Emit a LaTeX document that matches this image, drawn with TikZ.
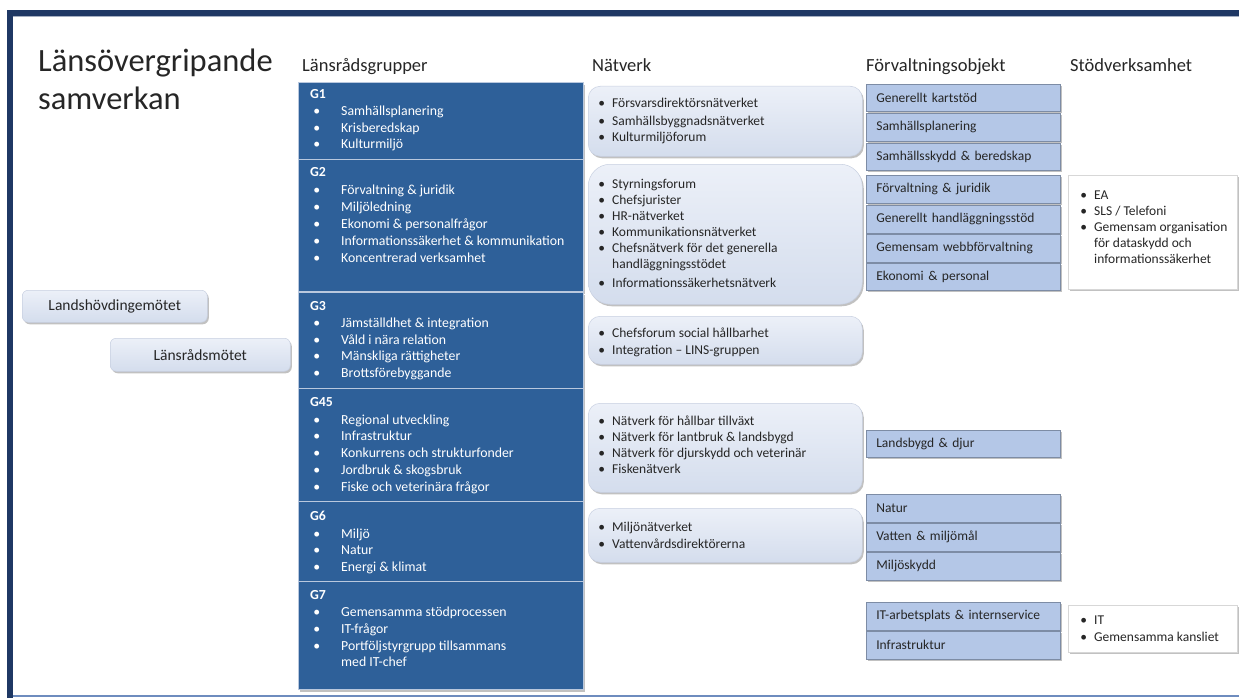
\documentclass[tikz,border=0pt]{standalone}
\usepackage{fontspec}
\setmainfont{Carlito}
\usetikzlibrary{shadows}
\definecolor{navy}{RGB}{31,56,100}
\definecolor{gblue}{RGB}{46,96,153}
\definecolor{gsep}{RGB}{185,200,222}
\definecolor{ntop}{RGB}{236,240,248}
\definecolor{nbot}{RGB}{212,221,237}
\definecolor{nline}{RGB}{200,208,225}
\definecolor{fofill}{RGB}{180,199,231}
\definecolor{foline}{RGB}{125,140,165}
\definecolor{txt}{RGB}{38,38,38}
\definecolor{botline}{RGB}{110,140,190}
\definecolor{stline}{RGB}{215,215,215}
\newcommand\gbul{\llap{\textbullet\hspace{21pt}}}
\newcommand\nbul{\llap{\textbullet\hspace{7pt}}}
\tikzset{
  shad/.style={drop shadow={shadow xshift=1.5pt,shadow yshift=-2pt,opacity=0.4,fill=black!60}},
  gbox/.style={draw=gsep, line width=1.2pt, fill=gblue, anchor=north west, inner sep=0, minimum width=285, shad},
  ghead/.style={anchor=base west, inner sep=0, text=white, font=\fontsize{13.8}{17}\selectfont\bfseries},
  gitem/.style={anchor=base west, inner sep=0, text=white, font=\fontsize{13.8}{17}\selectfont},
  nbox/.style={draw=nline, line width=0.5pt, top color=ntop, bottom color=nbot, rounded corners=12pt, anchor=north west, inner sep=0, minimum width=274, shad},
  nitem/.style={anchor=base west, inner sep=0, text=txt, font=\fontsize{13.5}{16}\selectfont},
  fobox/.style={draw=foline, line width=0.6pt, fill=fofill, anchor=north west, inner xsep=10pt, inner ysep=0pt, text width=174pt, align=left, minimum height=28, text=txt, font=\fontsize{13.5}{16}\selectfont, shad},
  stbox/.style={draw=stline, line width=0.5pt, fill=white, anchor=north west, inner sep=0, minimum width=168, shad},
  colhead/.style={anchor=base west, inner sep=0, text=txt, font=\fontsize{18.5}{22}\selectfont},
  lbox/.style={draw=nline, line width=0.5pt, top color=ntop, bottom color=nbot, rounded corners=6pt, anchor=north west, inner sep=0, text=txt, font=\fontsize{15.5}{18}\selectfont, shad},
}
\begin{document}
\begin{tikzpicture}[x=1pt,y=-1pt]
\useasboundingbox (0,0) rectangle (1239,698);
\fill[white] (0,0) rectangle (1239,698);
% frame
\fill[navy] (7,10) rectangle (1239,16);
\fill[navy!40!white] (13,16) rectangle (1239,17.2);
\fill[navy] (7,10) rectangle (13,698);
\fill[botline] (13,694.5) rectangle (1239,697);

% title
\node[anchor=base west, inner sep=0, text=txt, font=\fontsize{32.5}{38}\selectfont] (title1) at (38,72) {Länsövergripande};
\node[anchor=base west, inner sep=0, text=txt, font=\fontsize{32.5}{38}\selectfont] (title2) at (38,110) {samverkan};

% column headers
\node[colhead] (hgrp) at (302,72) {Länsrådsgrupper};
\node[colhead] (hnet) at (592,72) {Nätverk};
\node[colhead] (hfo) at (866,72) {Förvaltningsobjekt};
\node[colhead] (hst) at (1070,72) {Stödverksamhet};

% left boxes
\node[lbox, minimum width=185, minimum height=32] (landsh) at (22,290) {Landshövdingemötet};
\node[lbox, minimum width=180, minimum height=33] (lansr) at (110,338) {Länsrådsmötet};

% G blocks
\node[gbox, minimum height=77] (g1) at (298,82) {};
\node[gbox, minimum height=132] (g2) at (298,159) {};
\node[gbox, minimum height=96] (g3) at (298,292) {};
\node[gbox, minimum height=113] (g45) at (298,388) {};
\node[gbox, minimum height=80] (g6) at (298,501) {};
\node[gbox, minimum height=108] (g7) at (298,581) {};

\node[ghead] (g1h) at (310,99) {G1};
\foreach \n/\y/\lbl in {g1a/116/Samhällsplanering, g1b/132/Krisberedskap, g1c/148/Kulturmiljö}
  \node[gitem] (\n) at (341,\y) {\gbul\lbl};

\node[ghead] (g2h) at (310,176) {G2};
\foreach \n/\y/\lbl in {g2a/194/Förvaltning \& juridik, g2b/211/Miljöledning, g2c/228/Ekonomi \& personalfrågor, g2d/245/Informationssäkerhet \& kommunikation, g2e/262/Koncentrerad verksamhet}
  \node[gitem] (\n) at (341,\y) {\gbul\lbl};

\node[ghead] (g3h) at (310,310) {G3};
\foreach \n/\y/\lbl in {g3a/327/Jämställdhet \& integration, g3b/344/Våld i nära relation, g3c/360/Mänskliga rättigheter, g3d/377/Brottsförebyggande}
  \node[gitem] (\n) at (341,\y) {\gbul\lbl};

\node[ghead] (g45h) at (310,406) {G45};
\foreach \n/\y/\lbl in {g45a/424/Regional utveckling, g45b/440/Infrastruktur, g45c/457/Konkurrens och strukturfonder, g45d/474/Jordbruk \& skogsbruk, g45e/491/Fiske och veterinära frågor}
  \node[gitem] (\n) at (341,\y) {\gbul\lbl};

\node[ghead] (g6h) at (310,520) {G6};
\foreach \n/\y/\lbl in {g6a/538/Miljö, g6b/554/Natur, g6c/571/Energi \& klimat}
  \node[gitem] (\n) at (341,\y) {\gbul\lbl};

\node[ghead] (g7h) at (310,599) {G7};
\foreach \n/\y/\lbl in {g7a/616/Gemensamma stödprocessen, g7b/633/IT-frågor, g7c/650/Portföljstyrgrupp tillsammans}
  \node[gitem] (\n) at (341,\y) {\gbul\lbl};
\node[gitem] (g7d) at (341,666) {med IT-chef};

% network boxes
\node[nbox, minimum height=70] (n1) at (588,86) {};
\node[nbox, minimum height=140, rounded corners=22pt] (n2) at (588,164) {};
\node[nbox, minimum height=48] (n3) at (588,316) {};
\node[nbox, minimum height=89] (n4) at (588,403) {};
\node[nbox, minimum height=54] (n5) at (588,508) {};

\foreach \n/\y/\lbl in {n1a/108/Försvarsdirektörsnätverket, n1b/125/Samhällsbyggnadsnätverket, n1c/142/Kulturmiljöforum,
  n2a/188/Styrningsforum, n2b/204/Chefsjurister, n2c/220/HR-nätverket, n2d/236/Kommunikationsnätverket, n2e/252/Chefsnätverk för det generella, n2g/287/Informationssäkerhetsnätverk,
  n3a/337/Chefsforum social hållbarhet, n3b/354/Integration – LINS-gruppen,
  n4a/425/Nätverk för hållbar tillväxt, n4b/441/Nätverk för lantbruk \& landsbygd, n4c/457/Nätverk för djurskydd och veterinär, n4d/473/Fiskenätverk,
  n5a/531/Miljönätverket, n5b/548/Vattenvårdsdirektörerna}
  \node[nitem] (\n) at (612,\y) {\nbul\lbl};
\node[nitem] (n2f) at (612,268) {handläggningsstödet};

% forvaltningsobjekt
\node[fobox, minimum height=27] (fo1) at (866,84) {Generellt kartstöd};
\node[fobox] (fo2) at (866,113) {Samhällsplanering};
\node[fobox, minimum height=27] (fo3) at (866,143) {Samhällsskydd \& beredskap};
\node[fobox] (fo4) at (866,175) {Förvaltning \& juridik};
\node[fobox] (fo5) at (866,205) {Generellt handläggningsstöd};
\node[fobox] (fo6) at (866,234) {Gemensam webbförvaltning};
\node[fobox, minimum height=27] (fo7) at (866,263) {Ekonomi \& personal};
\node[fobox, minimum height=27] (fo8) at (866,430) {Landsbygd \& djur};
\node[fobox] (fo9) at (866,494) {Natur};
\node[fobox] (fo10) at (866,523) {Vatten \& miljömål};
\node[fobox] (fo11) at (866,552) {Miljöskydd};
\node[fobox] (fo12) at (866,602) {IT-arbetsplats \& internservice};
\node[fobox] (fo13) at (866,631) {Infrastruktur};

% stodverksamhet
\node[stbox, minimum height=114, minimum width=169] (s1) at (1068,175) {};
\node[stbox, minimum height=47, minimum width=169] (s2) at (1068,605) {};
\foreach \n/\y/\lbl in {s1a/199/EA, s1b/215/{SLS / Telefoni}, s1c/231/Gemensam organisation, s2a/624/IT, s2b/641/Gemensamma kansliet}
  \node[nitem] (\n) at (1094,\y) {\nbul\lbl};
\node[nitem] (s1d) at (1094,247) {för dataskydd och};
\node[nitem] (s1e) at (1094,263) {informationssäkerhet};
\end{tikzpicture}
\end{document}
